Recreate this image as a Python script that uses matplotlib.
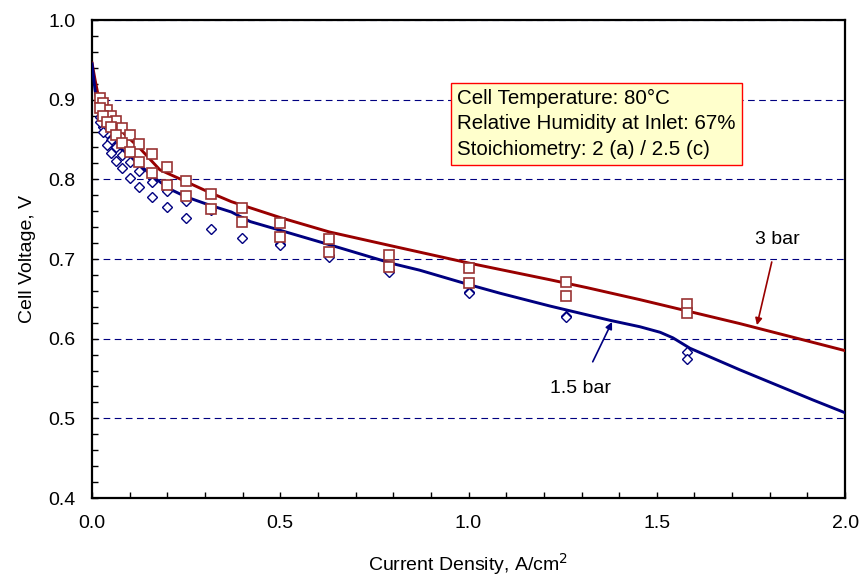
import matplotlib
matplotlib.use("Agg")
import matplotlib.pyplot as plt
from matplotlib.ticker import MultipleLocator

plt.rcParams['font.family'] = ['Liberation Sans', 'DejaVu Sans']

# measured current densities (A/cm2)
current = [0.02, 0.03, 0.04, 0.05, 0.063, 0.079, 0.1, 0.126, 0.158, 0.2,
           0.25, 0.316, 0.398, 0.5, 0.63, 0.79, 1.0, 1.26, 1.58]

# 3 bar measurements (two runs)
v3_run1 = [0.902, 0.896, 0.887, 0.880, 0.873, 0.864, 0.856, 0.844, 0.832, 0.815,
           0.798, 0.782, 0.764, 0.745, 0.725, 0.705, 0.689, 0.671, 0.644]
v3_run2 = [0.890, 0.880, 0.872, 0.866, 0.856, 0.846, 0.834, 0.822, 0.808, 0.793,
           0.779, 0.763, 0.747, 0.728, 0.709, 0.690, 0.670, 0.654, 0.632]

# 1.5 bar measurements (two runs)
v15_run1 = [0.878, 0.866, 0.858, 0.850, 0.840, 0.830, 0.822, 0.811, 0.797, 0.785,
            0.773, 0.762, 0.748, 0.719, 0.705, 0.686, 0.658, 0.628, 0.583]
v15_run2 = [0.872, 0.860, 0.843, 0.833, 0.823, 0.814, 0.802, 0.790, 0.778, 0.765,
            0.751, 0.738, 0.727, 0.717, 0.703, 0.684, 0.657, 0.627, 0.575]

# model curves
model3_x = [0, 0.008, 0.016, 0.03, 0.05, 0.088, 0.127, 0.18, 0.25, 0.31, 0.37,
            0.5, 0.63, 0.8, 1.0, 1.216, 1.315, 1.455, 1.72, 2.0]
model3_v = [0.946, 0.925, 0.906, 0.890, 0.875, 0.856, 0.839, 0.812, 0.797, 0.784, 0.772,
            0.752, 0.734, 0.716, 0.695, 0.674, 0.664, 0.649, 0.619, 0.585]
model15_x = [0, 0.008, 0.015, 0.03, 0.06, 0.12, 0.165, 0.21, 0.25, 0.31, 0.37, 0.42,
             0.5, 0.63, 0.8, 0.87, 1.0, 1.084, 1.216, 1.376, 1.455, 1.509, 1.543,
             1.588, 1.72, 1.915, 2.0]
model15_v = [0.945, 0.912, 0.893, 0.870, 0.845, 0.821, 0.802, 0.787, 0.778, 0.768, 0.759, 0.747,
             0.736, 0.718, 0.694, 0.686, 0.668, 0.657, 0.641, 0.623, 0.615, 0.608, 0.601,
             0.588, 0.561, 0.523, 0.507]

red = "#990000"
sq_red = "#993333"
navy = "#000080"

fig = plt.figure(figsize=(8.61, 5.77), dpi=100)
ax = fig.add_axes([0.1069, 0.1369, 0.8746, 0.8284])

ax.plot(model3_x, model3_v, color=red, linewidth=2.1, zorder=3)
ax.plot(model15_x, model15_v, color=navy, linewidth=2.1, zorder=3)

for v in (v15_run1, v15_run2):
    ax.plot(current, v, linestyle="none", marker="D", markersize=5,
            markerfacecolor="white", markeredgecolor=navy, markeredgewidth=1.0, zorder=4)
for v in (v3_run1, v3_run2):
    ax.plot(current, v, linestyle="none", marker="s", markersize=7,
            markerfacecolor="white", markeredgecolor=sq_red, markeredgewidth=1.2, zorder=5)

ax.set_xlim(0, 2.0)
ax.set_ylim(0.4, 1.0)
ax.xaxis.set_major_locator(MultipleLocator(0.5))
ax.xaxis.set_minor_locator(MultipleLocator(0.1))
ax.yaxis.set_major_locator(MultipleLocator(0.1))
ax.yaxis.set_minor_locator(MultipleLocator(0.02))
ax.xaxis.set_major_formatter(matplotlib.ticker.FormatStrFormatter('%.1f'))
ax.yaxis.set_major_formatter(matplotlib.ticker.FormatStrFormatter('%.1f'))
ax.tick_params(which="both", direction="in", length=4, width=1, labelsize=14, pad=12)
ax.yaxis.grid(True, which="major", color=navy, linestyle=(0, (6, 4)), linewidth=0.8)
ax.set_axisbelow(True)
for s in ax.spines.values():
    s.set_linewidth(1.6)

ax.set_xlabel("Current Density, A/cm$^2$", fontsize=14, labelpad=14)
ax.set_ylabel("Cell Voltage, V", fontsize=14, labelpad=9)

ax.text(0.9695, 0.9134,
        "Cell Temperature: 80°C\nRelative Humidity at Inlet: 67%\nStoichiometry: 2 (a) / 2.5 (c)",
        fontsize=14.8, ha="left", va="top", linespacing=1.42, zorder=6,
        bbox=dict(boxstyle="square,pad=0.3", facecolor="#FFFFCC", edgecolor="red", linewidth=1))

ax.annotate("3 bar", xy=(1.766, 0.617), xytext=(1.819, 0.724), fontsize=14,
            ha="center", va="center", color="black",
            arrowprops=dict(arrowstyle="-|>", color=red, lw=1.2, shrinkA=8, shrinkB=0,
                            mutation_scale=10))
ax.annotate("1.5 bar", xy=(1.381, 0.621), xytext=(1.296, 0.538), fontsize=14,
            ha="center", va="center", color="black",
            arrowprops=dict(arrowstyle="-|>", color=navy, lw=1.2, shrinkA=12, shrinkB=0,
                            mutation_scale=10))

fig.savefig("out.png", dpi=100)
